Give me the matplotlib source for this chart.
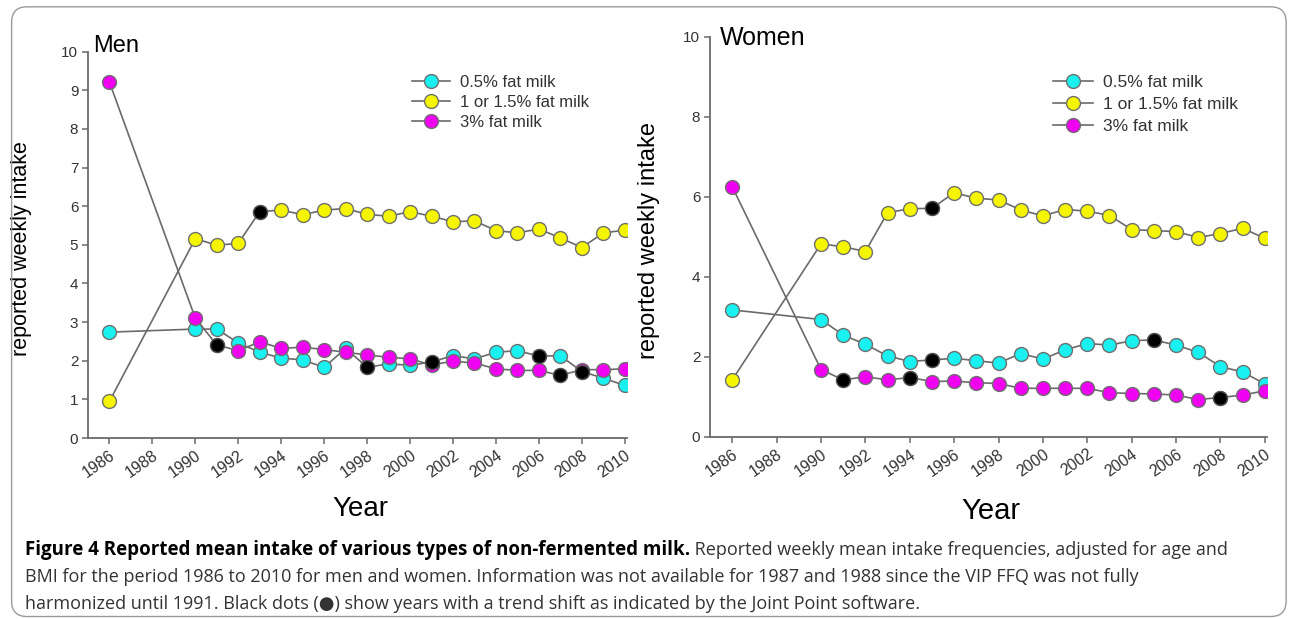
#Reported weekly intake of non-fermented milk, men and women, 1986-2010

#Libraries
import matplotlib
matplotlib.use('Agg')
import matplotlib.pyplot as plt
from matplotlib.patches import FancyBboxPatch

plt.rcParams['font.family']=['Liberation Sans','DejaVu Sans']

#Data
years=[1986,1990,1991,1992,1993,1994,1995,1996,1997,1998,1999,2000,2001,2002,2003,2004,2005,2006,2007,2008,2009,2010]

men_low=[2.74,2.82,2.82,2.46,2.22,2.07,2.02,1.83,2.32,1.83,1.92,1.88,1.97,2.13,2.05,2.22,2.26,2.12,2.13,1.72,1.55,1.36]
men_mid=[0.95,5.16,4.99,5.04,5.86,5.90,5.78,5.90,5.94,5.79,5.74,5.86,5.74,5.60,5.62,5.37,5.31,5.41,5.18,4.93,5.31,5.38]
men_full=[9.21,3.10,2.41,2.26,2.49,2.32,2.35,2.29,2.22,2.15,2.09,2.05,1.89,1.99,1.94,1.79,1.75,1.75,1.62,1.77,1.77,1.79]

women_low=[3.17,2.93,2.54,2.31,2.02,1.88,1.92,1.96,1.90,1.84,2.08,1.94,2.17,2.33,2.29,2.40,2.42,2.29,2.11,1.75,1.62,1.32]
women_mid=[1.42,4.82,4.75,4.63,5.60,5.70,5.71,6.10,5.96,5.92,5.67,5.52,5.68,5.64,5.53,5.18,5.15,5.13,4.98,5.08,5.21,4.96]
women_full=[6.25,1.68,1.42,1.50,1.42,1.48,1.38,1.39,1.35,1.33,1.21,1.21,1.21,1.21,1.10,1.08,1.07,1.04,0.93,0.98,1.04,1.15]

#Years with a trend shift (black dots)
men_low_shift=[1998,2001,2006,2008]
men_mid_shift=[1993]
men_full_shift=[1991,2007]
women_low_shift=[1995,2005]
women_mid_shift=[1995]
women_full_shift=[1991,1994,2008]

labels=['0.5% fat milk','1 or 1.5% fat milk','3% fat milk']
colors=['#19f0f0','#f5f500','#f000f0']
xticks=list(range(1986,2011,2))

fig=plt.figure(figsize=(12.9,6.19),dpi=100)

#Rounded frame round the whole figure
frame=FancyBboxPatch((0.009,0.004),0.988,0.985,boxstyle='round,pad=0,rounding_size=0.012',
	transform=fig.transFigure,fill=False,edgecolor='#9a9a9a',linewidth=1.0,mutation_aspect=2.08)
fig.patches.append(frame)

def panel(rect,series,shifts,yticks,title,title_size,title_pos,leg_pos,leg_size,leg_space,label_size,year_size,ylab_x,year_y):
	ax=fig.add_axes(rect)
	for vals,shift,col,lab in zip(series,shifts,colors,labels):
		ax.plot(years,vals,color='#6a6a6a',linewidth=1.2,marker='o',markersize=10,
			markerfacecolor=col,markeredgecolor='#707070',markeredgewidth=1.0,label=lab,zorder=2)
		sx=[y for y in years if y in shift]
		sy=[v for y,v in zip(years,vals) if y in shift]
		ax.plot(sx,sy,linestyle='none',marker='o',markersize=10,markerfacecolor='black',
			markeredgecolor='#505050',markeredgewidth=1.0,zorder=3)
	ax.set_xlim(1985,2010.1)
	ax.set_ylim(0,10)
	ax.set_xticks(xticks)
	ax.set_xticklabels([str(x) for x in xticks],rotation=35,ha='right',rotation_mode='anchor',fontsize=11.5,color='#333333')
	ax.set_yticks(yticks)
	ax.set_yticklabels([str(y) for y in yticks],fontsize=11,color='#333333')
	for s in ['top','right']:
		ax.spines[s].set_visible(False)
	for s in ['left','bottom']:
		ax.spines[s].set_color('#6a6a6a')
		ax.spines[s].set_linewidth(1.3)
	ax.tick_params(direction='out',length=4,width=1.1,color='#6a6a6a',pad=3)
	ax.set_ylabel('reported weekly intake',fontsize=label_size)
	ax.yaxis.set_label_coords(ylab_x,0.49)
	ax.set_xlabel('Year',fontsize=year_size)
	ax.xaxis.set_label_coords(0.505,year_y)
	ax.text(title_pos[0],title_pos[1],title,transform=ax.transAxes,fontsize=title_size,va='baseline',ha='left')
	ax.legend(loc='upper left',bbox_to_anchor=leg_pos,frameon=False,fontsize=leg_size,
		handlelength=2.3,handletextpad=0.6,labelspacing=leg_space,borderpad=0,borderaxespad=0,labelcolor='#333333')
	return ax

panel([0.0682,0.2924,0.4178,0.6241],[men_low,men_mid,men_full],[men_low_shift,men_mid_shift,men_full_shift],
	list(range(0,11)),'Men',17,(0.009,0.999),(0.601,0.94),12,0.3,15.5,20,-0.104,-0.15)
panel([0.5504,0.2945,0.4318,0.6462],[women_low,women_mid,women_full],[women_low_shift,women_mid_shift,women_full_shift],
	list(range(0,11,2)),'Women',18,(0.018,0.979),(0.616,0.905),12.5,0.4,17,21,-0.09,-0.15)

#Caption
cap_font=['Open Sans','DejaVu Sans']
bold='Figure 4 Reported mean intake of various types of non-fermented milk.'
rest1=' Reported weekly mean intake frequencies, adjusted for age and'
line2='BMI for the period 1986 to 2010 for men and women. Information was not available for 1987 and 1988 since the VIP FFQ was not fully'
line3='harmonized until 1991. Black dots (\u25cf) show years with a trend shift as indicated by the Joint Point software.'
cx=0.019
t=fig.text(cx,0.1115,bold,fontsize=13.5,fontweight='bold',family=cap_font,va='center',ha='left')
fig.canvas.draw()
bb=t.get_window_extent(renderer=fig.canvas.get_renderer())
fig.text(bb.x1/fig.bbox.width,0.1115,rest1,fontsize=13,family=cap_font,va='center',ha='left',color='#333333')
fig.text(cx,0.0679,line2,fontsize=13,family=cap_font,va='center',ha='left',color='#333333')
fig.text(cx,0.0242,line3,fontsize=13,family=cap_font,va='center',ha='left',color='#333333')

plt.savefig('out.png',dpi=100)
